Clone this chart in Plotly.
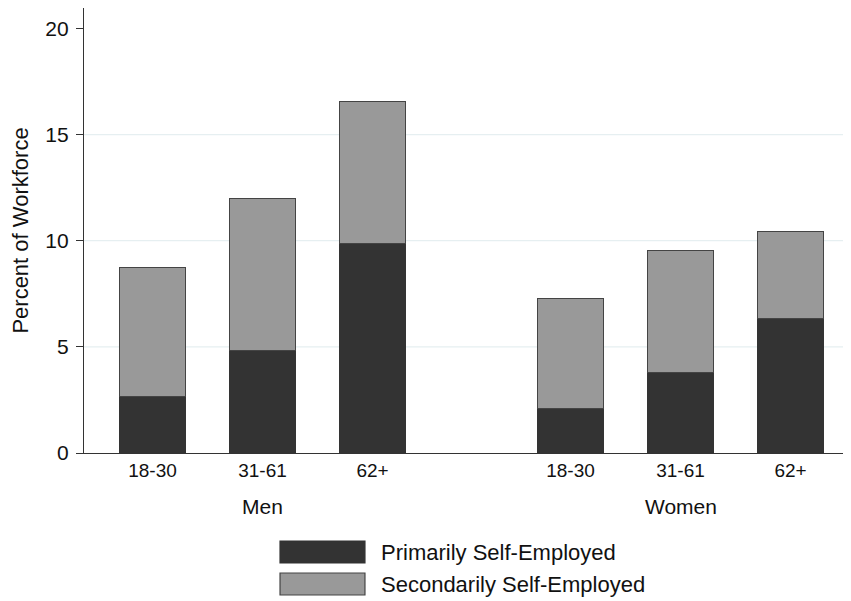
import plotly.graph_objects as go

groups = ["Men", "Men", "Men", "Women", "Women", "Women"]
age_groups = ["18-30", "31-61", "62+", "18-30", "31-61", "62+"]
primarily = [2.67, 4.83, 9.87, 2.10, 3.80, 6.32]
secondarily = [6.08, 7.15, 6.67, 5.19, 5.74, 4.13]
y_ticks = [0, 5, 10, 15, 20]
group_names = ["Men", "Women"]
legend_names = ["Primarily Self-Employed", "Secondarily Self-Employed"]

FONT = "Liberation Sans, Arial, Helvetica, sans-serif"
DARK = "#333333"
LIGHT = "#999999"
EDGE = "#444444"

# positions: 3 bars per group, extra gap between groups
xpos = []
for i, g in enumerate(groups):
    gi = group_names.index(g)
    xpos.append((i % 3) + 1 + gi * 3.8)

fig = go.Figure()
fig.add_trace(go.Bar(x=xpos, y=primarily, name=legend_names[0], width=0.6,
                     marker=dict(color=DARK, line=dict(color=DARK, width=1)),
                     showlegend=False))
fig.add_trace(go.Bar(x=xpos, y=secondarily, name=legend_names[1], width=0.6,
                     marker=dict(color=LIGHT, line=dict(color=EDGE, width=1.2)),
                     showlegend=False))

for v in y_ticks[1:-1]:
    fig.add_hline(y=v, line=dict(color="#E6EFF1", width=1.3), layer="below")

fig.update_layout(
    barmode="stack",
    width=843, height=593,
    margin=dict(l=76, r=1, t=0, b=148),
    paper_bgcolor="white", plot_bgcolor="white",
    font=dict(family=FONT, color="#111111"),
    xaxis=dict(range=[0.377, 7.341], tickvals=xpos, ticktext=age_groups,
               showgrid=False, zeroline=False, showline=True, linecolor="#333333",
               linewidth=1.3, ticks="", tickfont=dict(size=19), ticklabelstandoff=0),
    yaxis=dict(range=[0, 20.96], tickvals=y_ticks, showgrid=False, zeroline=False,
               showline=True, linecolor="#333333", linewidth=1.3, ticks="outside",
               ticklen=7, tickcolor="#333333", tickwidth=1.3, tickfont=dict(size=21),
               ticklabelstandoff=3,
               title=dict(text="Percent of Workforce", font=dict(size=22), standoff=10)),
)

# group labels
for gi, g in enumerate(group_names):
    fig.add_annotation(x=2 + gi * 3.8, y=-0.1213, xref="x", yref="paper", text=g,
                       showarrow=False, font=dict(size=21), xanchor="center", yanchor="middle")

# legend drawn as boxes + text
leg_colors = [DARK, LIGHT]
leg_edges = [DARK, EDGE]
leg_y = [(-0.2472, -0.1978), (-0.3191, -0.2697)]
for k in range(2):
    y0, y1 = leg_y[k]
    fig.add_shape(type="rect", xref="paper", yref="paper", x0=0.2559, x1=0.3668,
                  y0=y0, y1=y1, fillcolor=leg_colors[k], line=dict(color=leg_edges[k], width=1.2))
    fig.add_annotation(x=0.3851, y=(y0 + y1) / 2, xref="paper", yref="paper",
                       text=legend_names[k], showarrow=False, font=dict(size=22),
                       xanchor="left", yanchor="middle")

fig.write_html("out.html")
